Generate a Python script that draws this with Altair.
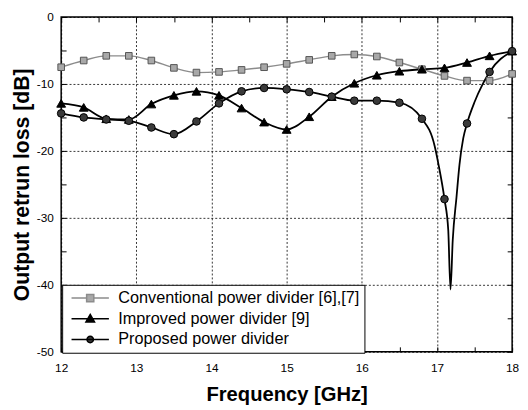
import altair as alt
import pandas as pd

# ---- data ----
freq = [12.0, 12.3, 12.6, 12.9, 13.2, 13.5, 13.8, 14.1, 14.4, 14.7, 15.0,
        15.3, 15.6, 15.9, 16.2, 16.5, 16.8, 17.1, 17.4, 17.7, 18.0]
conventional = [-7.5, -6.5, -5.8, -5.8, -6.5, -7.6, -8.3, -8.2, -7.9, -7.5, -7.0,
                -6.4, -5.8, -5.6, -5.9, -6.8, -7.8, -8.8, -9.5, -9.5, -8.5]
improved = [-12.9, -13.5, -15.2, -15.3, -13.0, -11.7, -11.1, -11.7, -13.6, -15.7, -16.8,
            -14.9, -11.9, -9.9, -8.7, -8.1, -7.8, -7.6, -6.8, -5.8, -5.1]
proposed = [-14.4, -15.0, -15.3, -15.5, -16.5, -17.5, -15.6, -12.9, -11.1, -10.6, -10.8,
            -11.2, -11.9, -12.5, -12.5, -12.8, -15.2, -27.2, -15.9, -8.2, -5.1]
# extra curve points (no markers) through the sharp resonance of the proposed divider
dip_freq = [16.97, 17.02, 17.15, 17.18, 17.21, 17.26, 17.30, 17.35, 17.50, 17.61]
dip_loss = [-19.3, -22.0, -31.8, -40.7, -33.3, -26.9, -22.0, -18.1, -12.7, -10.0]

series_names = ["Conventional power divider [6],[7]",
                "Improved power divider [9]",
                "Proposed power divider"]
x_ticks = [12 + 0.5 * i for i in range(13)]
y_ticks = [-50 + 5 * i for i in range(11)]

# ---- tables ----
rows = []
for name, vals in zip(series_names, [conventional, improved, proposed]):
    for f, v in zip(freq, vals):
        rows.append({"f": f, "db": v, "series": name})
markers = pd.DataFrame(rows)
line_rows = list(rows) + [{"f": f, "db": v, "series": series_names[2]}
                          for f, v in zip(dip_freq, dip_loss)]
lines = pd.DataFrame(line_rows).sort_values(["series", "f"])

FONT = "Liberation Sans"

xaxis = alt.Axis(values=x_ticks, domain=False, tickSize=5, offset=-5, tickColor="black",
                 tickWidth=1, labelPadding=11, labelFontSize=12, labelColor="black",
                 labelFlush=False, labelOverlap=False,
                 labelExpr="datum.value % 1 === 0 ? '' + datum.value : ''",
                 grid=True, gridColor="black", gridDash=[2, 2], gridWidth=0.8,
                 gridOpacity={"condition": {"test": "datum.value % 1 === 0", "value": 1}, "value": 0},
                 title="Frequency [GHz]", titleFontSize=20.5, titleFontWeight="bold",
                 titlePadding=11, titleColor="black")
yaxis = alt.Axis(values=y_ticks, domain=False, tickSize=5, offset=-5, tickColor="black",
                 tickWidth=1, labelPadding=8, labelFontSize=12, labelColor="black",
                 labelFlush=False, labelOverlap=False,
                 labelExpr="datum.value % 10 === 0 ? '' + datum.value : ''",
                 grid=True, gridColor="black", gridDash=[2, 2], gridWidth=0.8,
                 gridOpacity={"condition": {"test": "datum.value % 10 === 0", "value": 1}, "value": 0},
                 title="Output retrun loss [dB]", titleFontSize=21.5, titleFontWeight="bold",
                 titlePadding=3, titleColor="black")

xs = alt.Scale(domain=[12, 18], nice=False, zero=False)
ys = alt.Scale(domain=[-50, 0], nice=False, zero=False)
x_enc = alt.X("f:Q", scale=xs, axis=xaxis)
y_enc = alt.Y("db:Q", scale=ys, axis=yaxis)

line_colors = ["#8c8c8c", "black", "black"]
line_widths = [1.4, 1.8, 1.8]
shapes = ["square", "triangle-up", "circle"]
sizes = [45, 80, 60]
fills = ["#a8a8a8", "black", "#3a3a3a"]
strokes = ["#555555", "black", "black"]

layers = []
for i, name in enumerate(series_names):
    layers.append(
        alt.Chart(lines).transform_filter(alt.datum.series == name)
        .mark_line(interpolate="monotone", color=line_colors[i], strokeWidth=line_widths[i])
        .encode(x=x_enc, y=y_enc, order="f:Q")
    )
for i, name in enumerate(series_names):
    layers.append(
        alt.Chart(markers).transform_filter(alt.datum.series == name)
        .mark_point(shape=shapes[i], size=sizes[i], filled=True, fill=fills[i],
                    stroke=strokes[i], strokeWidth=1, opacity=1)
        .encode(x=x_enc, y=y_enc)
    )

# legend: line + marker glyphs as custom symbol paths
legend_paths = [
    "M-2.6,0H-0.5M0.5,0H2.6M-0.5,-0.5H0.5V0.5H-0.5Z",
    "M-2.6,0H2.6M0,-0.6L0.6,0.45H-0.6Z",
    "M-2.6,0H2.6M0.45,0A0.45,0.45,0,1,1,-0.45,0A0.45,0.45,0,1,1,0.45,0Z",
]
leg = alt.Legend(orient="none", legendX=1, legendY=272, title=None,
                 labelFont=FONT, labelFontSize=16.5, labelColor="black", labelLimit=400,
                 symbolSize=213, symbolStrokeWidth=1.5, symbolOffset=15, labelOffset=20,
                 padding=5, rowPadding=4, strokeColor="black", fillColor="white",
                 cornerRadius=0, symbolOpacity=1)
legend_layer = (
    alt.Chart(markers).transform_filter("false")
    .mark_point(strokeWidth=1.5)
    .encode(
        x=x_enc, y=y_enc,
        shape=alt.Shape("series:N", scale=alt.Scale(domain=series_names, range=legend_paths),
                        legend=leg),
        fill=alt.Fill("series:N", scale=alt.Scale(domain=series_names, range=fills), legend=leg),
        stroke=alt.Stroke("series:N", scale=alt.Scale(domain=series_names, range=line_colors),
                          legend=leg),
    )
)
layers.append(legend_layer)
inner = alt.layer(*layers)

# ticks on the top and right edges
frame_ticks = alt.Chart(markers).mark_point(opacity=0, size=1).encode(
    x=alt.X("f:Q", scale=xs, axis=alt.Axis(orient="top", values=x_ticks, labels=False, title=None,
                                           domain=False, grid=False, tickSize=5, offset=-5,
                                           tickColor="black")),
    y=alt.Y("db:Q", scale=ys, axis=alt.Axis(orient="right", values=y_ticks, labels=False, title=None,
                                            domain=False, grid=False, tickSize=5, offset=-5,
                                            tickColor="black")),
)

chart = (
    alt.layer(inner, frame_ticks)
    .resolve_axis(x="independent", y="independent")
    .properties(width=458, height=340,
                autosize=alt.AutoSizeParams(type="none"),
                padding={"left": 54, "top": 6, "right": 8, "bottom": 56})
    .configure_view(stroke="black", strokeWidth=1.5)
    .configure_axis(labelFont=FONT, titleFont=FONT)
    .configure_legend(labelFont=FONT)
)

chart.save("out.html", embed_options={"renderer": "svg", "actions": False})
